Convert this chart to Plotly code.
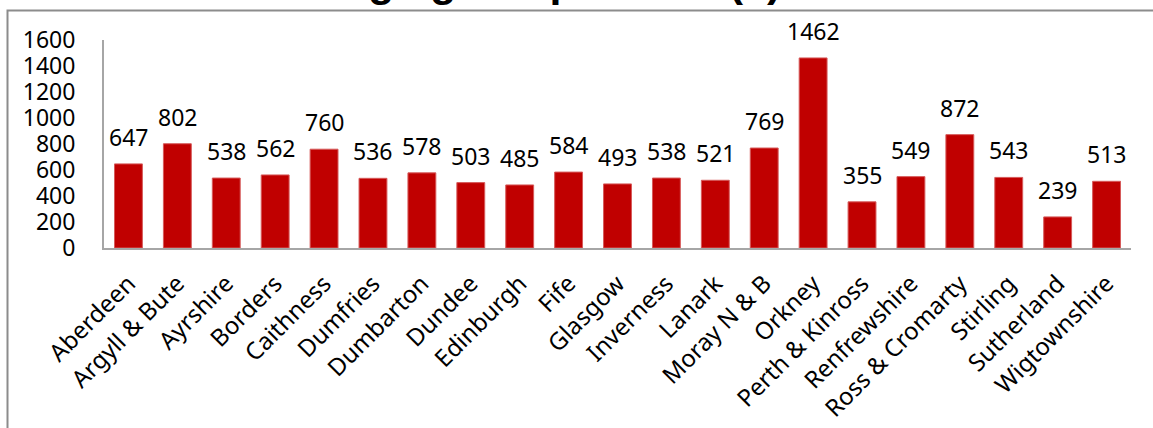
import plotly.graph_objects as go

# Counties and their average grant values
counties = [
    "Aberdeen", "Argyll & Bute", "Ayrshire", "Borders", "Caithness", "Dumfries",
    "Dumbarton", "Dundee", "Edinburgh", "Fife", "Glasgow", "Inverness", "Lanark",
    "Moray N & B", "Orkney", "Perth & Kinross", "Renfrewshire", "Ross & Cromarty",
    "Stirling", "Sutherland", "Wigtownshire",
]
grant_values = [
    647, 802, 538, 562, 760, 536, 578, 503, 485, 584, 493, 538, 521,
    769, 1462, 355, 549, 872, 543, 239, 513,
]
y_ticks = [0, 200, 400, 600, 800, 1000, 1200, 1400, 1600]
title_text = "Average grant per acre (£) 1913-15"

FONT = "Noto Sans, Open Sans, sans-serif"
BAR_RED = "#C00000"
AXIS_GREY = "#A6A6A6"

W, H = 1153, 428
M_L, M_R, M_T, M_B = 104, 22, 40, 180
plot_w = W - M_L - M_R
plot_h = H - M_T - M_B


def px_to_paper_x(px):
    return (px - M_L) / plot_w


def px_to_paper_y(py):
    return (H - M_B - py) / plot_h


fig = go.Figure()
fig.add_trace(go.Bar(
    x=counties,
    y=grant_values,
    marker=dict(color=BAR_RED, line=dict(color="#D65A5A", width=1)),
    hoverinfo="x+y",
))

# Value labels above each bar
for name, val in zip(counties, grant_values):
    fig.add_annotation(
        x=name, y=val, xref="x", yref="y",
        text=str(val), showarrow=False,
        yanchor="middle", yshift=27,
        font=dict(family=FONT, size=23, color="#000000"),
    )

# Chart title, sitting at the very top edge
fig.add_annotation(
    x=px_to_paper_x(600), y=px_to_paper_y(7),
    xref="paper", yref="paper",
    xanchor="center", yanchor="bottom",
    text=f"<b>{title_text}</b>", showarrow=False,
    font=dict(family="Liberation Sans, Arial, sans-serif", size=43, color="#000000"),
)

# Chart-area frame (left and top edges)
fig.add_shape(
    type="path",
    xref="paper", yref="paper",
    path=(f"M {px_to_paper_x(7.5)} {px_to_paper_y(440)} "
          f"L {px_to_paper_x(7.5)} {px_to_paper_y(10.5)} "
          f"L {px_to_paper_x(1170)} {px_to_paper_y(10.5)}"),
    line=dict(color="#8C8C8C", width=2),
    layer="above",
)

fig.update_layout(
    width=W, height=H,
    margin=dict(l=M_L, r=M_R, t=M_T, b=M_B),
    paper_bgcolor="#FFFFFF",
    plot_bgcolor="#FFFFFF",
    showlegend=False,
    bargap=0.43,
    font=dict(family=FONT, size=23, color="#000000"),
    xaxis=dict(
        showline=True, linecolor=AXIS_GREY, linewidth=2,
        showgrid=False, ticks="", tickangle=-45,
        ticklabelstandoff=10, automargin=False,
        tickfont=dict(family=FONT, size=24, color="#000000"),
    ),
    yaxis=dict(
        range=[0, 1600], tickvals=y_ticks,
        showline=True, linecolor=AXIS_GREY, linewidth=2,
        showgrid=False, ticks="", zeroline=False,
        ticklabelstandoff=22, automargin=False,
        tickfont=dict(family=FONT, size=23, color="#000000"),
    ),
)

fig.write_html("out.html")
